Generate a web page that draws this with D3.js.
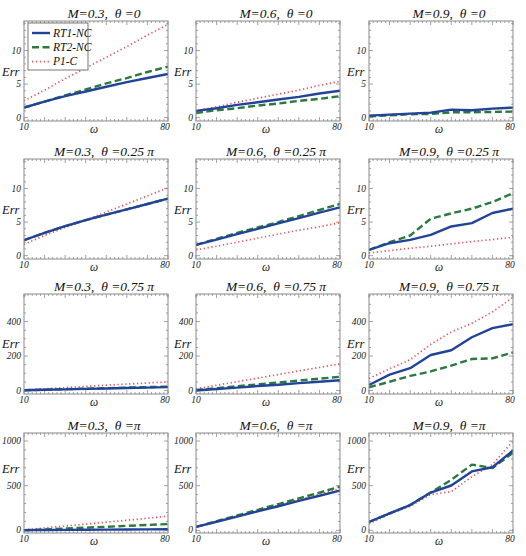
<!DOCTYPE html>
<html><head><meta charset="utf-8">
<script src="https://cdn.jsdelivr.net/npm/d3@7"></script>
<style>body{margin:0;background:#fff}</style>
</head><body><svg id="c" width="526" height="556"></svg>
<script>
// ---------- data ----------
const omega = [10, 20, 30, 40, 50, 60, 70, 80];
const Mvals = ["0.3", "0.6", "0.9"];
const thetaLabels = ["0", "0.25\u00a0π", "0.75\u00a0π", "π"];
const seriesNames = ["RT1-NC", "RT2-NC", "P1-C"];
const yMajorTicks = [[0, 5, 10], [0, 5, 10], [0, 200, 400], [0, 500, 1000]];
const xLabelTicks = [10, 80];
// panels in reading order: row (theta) by column (M)
const rt1NC = [
  [1.5, 2.4, 3.2, 3.9, 4.6, 5.3, 5.9, 6.5],
  [1.0, 1.4, 1.9, 2.3, 2.7, 3.1, 3.6, 4.0],
  [0.3, 0.45, 0.6, 0.75, 1.2, 1.1, 1.35, 1.5],
  [2.3, 3.4, 4.4, 5.3, 6.1, 6.9, 7.7, 8.5],
  [1.6, 2.4, 3.2, 4.0, 4.8, 5.6, 6.4, 7.2],
  [0.85, 1.85, 2.35, 3.1, 4.35, 4.85, 6.35, 7.0],
  [2, 5, 7, 10, 12, 15, 17, 20],
  [0, 9, 17, 26, 34, 43, 51, 60],
  [32, 92, 130, 206, 234, 309, 362, 385],
  [2, 3, 5, 6, 8, 9, 11, 12],
  [38, 96, 154, 212, 270, 329, 387, 445],
  [94, 189, 283, 423, 502, 660, 706, 894]
];
const rt2NC = [
  [1.5, 2.4, 3.3, 4.2, 5.1, 5.9, 6.8, 7.6],
  [0.7, 1.1, 1.4, 1.8, 2.1, 2.5, 2.8, 3.2],
  [0.2, 0.35, 0.5, 0.55, 0.8, 0.8, 0.85, 0.9],
  [2.3, 3.4, 4.4, 5.3, 6.1, 6.9, 7.7, 8.5],
  [1.6, 2.5, 3.4, 4.2, 5.0, 5.9, 6.8, 7.7],
  [0.85, 2.0, 3.0, 5.5, 6.3, 7.0, 8.0, 9.3],
  [2, 5, 8, 11, 14, 17, 20, 23],
  [3, 14, 25, 36, 47, 58, 69, 80],
  [19, 51, 85, 111, 145, 183, 187, 221],
  [0, 10, 20, 30, 40, 50, 60, 70],
  [38, 102, 166, 230, 294, 358, 422, 490],
  [94, 189, 283, 423, 566, 736, 698, 868]
];
const p1C = [
  [2.5, 4.1, 5.8, 7.4, 9.0, 10.6, 12.3, 13.9],
  [1.0, 1.6, 2.3, 2.9, 3.5, 4.1, 4.8, 5.4],
  [0.3, 0.45, 0.6, 0.7, 1.1, 1.05, 1.3, 1.45],
  [1.7, 3.0, 4.2, 5.3, 6.5, 7.7, 8.9, 10.1],
  [0.85, 1.4, 2.0, 2.6, 3.2, 3.8, 4.3, 4.9],
  [0.4, 0.75, 1.1, 1.4, 1.75, 2.1, 2.4, 2.75],
  [3, 10, 17, 24, 31, 38, 44, 50],
  [10, 31, 51, 72, 93, 114, 134, 155],
  [70, 126, 179, 268, 340, 390, 456, 541],
  [5, 27, 48, 70, 91, 113, 135, 160],
  [38, 99, 160, 221, 282, 343, 404, 465],
  [75, 180, 270, 400, 434, 600, 736, 1000]
];

// ---------- layout ----------
const FONT = "Liberation Serif";
const colX = [24, 196, 369], plotW = 144;
const rowY = [21, 159, 294, 433], plotH = 100;
const yDomains = [[-0.5, 14.4], [-0.5, 14.4], [-20, 560], [-30, 1090]];
const yMinorStep = [1, 1, 50, 100];
const errOffset = [5, 5, 4, -10];
const styles = [
  {color: "#22439a", width: 2.4, dash: null},
  {color: "#2a7a3c", width: 2.4, dash: "7,3.5"},
  {color: "#e4565c", width: 1.7, dash: "1.3,2.6"}
];
const allSeries = [rt1NC, rt2NC, p1C];

const svg = d3.select("#c");
const frameColor = "#8a8a8a";
function txt(sel, size) {
  return sel.append("text").attr("font-family", FONT).attr("font-style", "italic")
    .attr("font-weight", "normal").attr("font-size", size);
}

for (let r = 0; r < 4; r++) {
  for (let c = 0; c < 3; c++) {
    const idx = r * 3 + c;
    const x0 = colX[c], y0 = rowY[r];
    const x = d3.scaleLinear().domain([10, 80]).range([x0, x0 + plotW]);
    const y = d3.scaleLinear().domain(yDomains[r]).range([y0 + plotH, y0]);
    const g = svg.append("g");

    // title
    txt(g, 13.5).attr("x", x0 + plotW / 2 + 8).attr("y", y0 - 3)
      .attr("text-anchor", "middle").attr("fill", "#111")
      .text(`M=${Mvals[c]},\u00a0\u00a0θ\u00a0=${thetaLabels[r]}`);

    // minor/major ticks
    const [d0, d1] = yDomains[r];
    const minor = d3.range(Math.ceil(d0 / yMinorStep[r]) * yMinorStep[r], d1, yMinorStep[r]);
    minor.forEach(v => {
      const major = yMajorTicks[r].includes(v);
      const len = major ? 4 : 2;
      g.append("line").attr("x1", x0).attr("x2", x0 + len).attr("y1", y(v)).attr("y2", y(v)).attr("stroke", frameColor).attr("stroke-width", 0.8);
      g.append("line").attr("x1", x0 + plotW).attr("x2", x0 + plotW - len).attr("y1", y(v)).attr("y2", y(v)).attr("stroke", frameColor).attr("stroke-width", 0.8);
    });
    d3.range(10, 81, 2).forEach(v => {
      const major = v % 10 === 0;
      const len = major ? 4 : 2;
      g.append("line").attr("x1", x(v)).attr("x2", x(v)).attr("y1", y0 + plotH).attr("y2", y0 + plotH - len).attr("stroke", frameColor).attr("stroke-width", 0.8);
      g.append("line").attr("x1", x(v)).attr("x2", x(v)).attr("y1", y0).attr("y2", y0 + len).attr("stroke", frameColor).attr("stroke-width", 0.8);
    });

    // tick labels
    yMajorTicks[r].forEach(v => {
      txt(g, 9.5).attr("x", x0 - 3).attr("y", y(v) + 3).attr("text-anchor", "end")
        .attr("fill", "#222").text(v);
    });
    xLabelTicks.forEach(v => {
      txt(g, 9.5).attr("x", x(v) + (v === 80 ? -3 : 0)).attr("y", y0 + plotH + 9).attr("text-anchor", "middle")
        .attr("fill", "#222").text(v);
    });
    // axis labels
    txt(g, 11.5).attr("x", x0 + plotW / 2 - 2).attr("y", y0 + plotH + 12).attr("text-anchor", "middle")
      .attr("fill", "#222").text("ω");
    txt(g, 12.5).attr("x", x0 - 22).attr("y", y0 + plotH / 2 + errOffset[r]).attr("text-anchor", "start")
      .attr("fill", "#111").text("Err");

    // clip
    const clipId = "clip" + idx;
    svg.append("clipPath").attr("id", clipId).append("rect")
      .attr("x", x0).attr("y", y0).attr("width", plotW).attr("height", plotH);

    const line = d3.line().x((d, i) => x(omega[i])).y(d => y(d));
    const order = [2, 1, 0];
    order.forEach(s => {
      const st = styles[s];
      g.append("path").attr("clip-path", `url(#${clipId})`)
        .attr("d", line(allSeries[s][idx])).attr("fill", "none")
        .attr("stroke", st.color).attr("stroke-width", st.width)
        .attr("stroke-dasharray", st.dash).attr("stroke-linejoin", "round");
    });

    // frame
    g.append("rect").attr("x", x0).attr("y", y0).attr("width", plotW).attr("height", plotH)
      .attr("fill", "none").attr("stroke", frameColor).attr("stroke-width", 1);

    // legend in first panel
    if (idx === 0) {
      const lg = g.append("g");
      lg.append("rect").attr("x", 28).attr("y", 23).attr("width", 60).attr("height", 47)
        .attr("fill", "#fff").attr("stroke", "#555").attr("stroke-width", 0.8);
      seriesNames.forEach((name, s) => {
        const ly = 33 + s * 14.3;
        const st = styles[s];
        lg.append("line").attr("x1", 32).attr("x2", 50).attr("y1", ly).attr("y2", ly)
          .attr("stroke", st.color).attr("stroke-width", st.width).attr("stroke-dasharray", st.dash);
        txt(lg, 11.5).attr("x", 53).attr("y", ly + 3.5).attr("fill", "#111").text(name);
      });
    }
  }
}
</script></body></html>
